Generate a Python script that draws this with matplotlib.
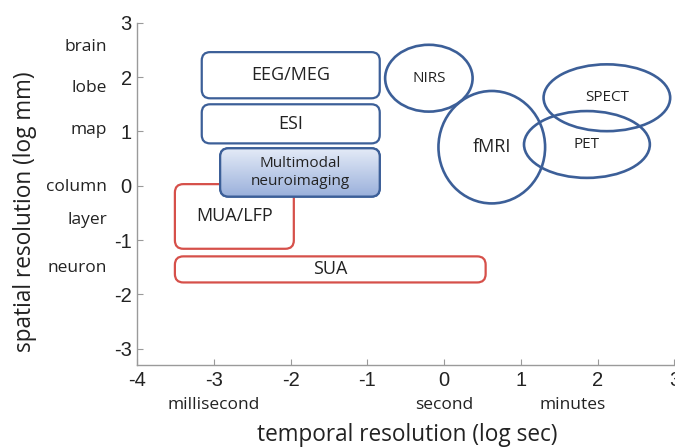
import matplotlib.pyplot as plt
import numpy as np
from matplotlib.patches import FancyBboxPatch, Ellipse
from matplotlib.colors import LinearSegmentedColormap

# rounded boxes: label, x0, x1, y0, y1, style
box_names = ["EEG/MEG", "ESI", "Multimodal\nneuroimaging", "MUA/LFP", "SUA"]
box_x0 = [-3.16, -3.16, -2.92, -3.51, -3.51]
box_x1 = [-0.84, -0.84, -0.84, -1.96, 0.54]
box_y0 = [1.61, 0.78, -0.20, -1.16, -1.78]
box_y1 = [2.46, 1.50, 0.69, 0.03, -1.30]
box_kind = ["blue", "blue", "fill", "red", "red"]

# ellipses: label, centre x, centre y, width, height
ell_names = ["NIRS", "fMRI", "SPECT", "PET"]
ell_cx = [-0.20, 0.62, 2.12, 1.86]
ell_cy = [1.98, 0.71, 1.62, 0.76]
ell_w = [1.14, 1.39, 1.65, 1.64]
ell_h = [1.23, 2.07, 1.23, 1.23]

y_names = ["brain", "lobe", "map", "column", "layer", "neuron"]
y_name_pos = [2.56, 1.80, 1.03, -0.02, -0.63, -1.52]
x_names = ["millisecond", "second", "minutes"]
x_name_pos = [-3, 0, 1.68]

blue = "#3c5f98"
red = "#d6504a"
cal = ["Open Sans", "DejaVu Sans"]

fig = plt.figure(figsize=(6.75, 4.47), dpi=100)
ax = fig.add_axes([0.2034, 0.1834, 0.7957, 0.7656])
ax.set_xlim(-4, 3)
ax.set_ylim(-3.3, 3)

# ratio of screen size of a y unit to an x unit, keeps corners round
asp = (6.3 / (0.7656 * 4.47)) / (7 / (0.7957 * 6.75))

for name, x0, x1, y0, y1, kind in zip(box_names, box_x0, box_x1, box_y0, box_y1, box_kind):
    ec = red if kind == "red" else blue
    z = 5 if kind == "fill" else 3
    patch = FancyBboxPatch((x0, y0), x1 - x0, y1 - y0,
                           boxstyle="round,pad=0,rounding_size=0.11",
                           mutation_aspect=asp, fc="white" if kind == "fill" else "none",
                           ec=ec, lw=1.6, zorder=z)
    ax.add_patch(patch)
    fs = 13
    if kind == "fill":
        grad = np.linspace(0, 1, 100).reshape(-1, 1)
        cmap = LinearSegmentedColormap.from_list("g", ["#e4ebf7", "#9ab0db"])
        img = ax.imshow(grad, extent=(x0, x1, y0, y1), origin="upper", cmap=cmap,
                        aspect="auto", zorder=5.5)
        img.set_clip_path(patch)
        edge = FancyBboxPatch((x0, y0), x1 - x0, y1 - y0,
                              boxstyle="round,pad=0,rounding_size=0.11",
                              mutation_aspect=asp, fc="none", ec=ec, lw=1.6, zorder=6)
        ax.add_patch(edge)
        fs = 11
    ax.text((x0 + x1) / 2, (y0 + y1) / 2, name, ha="center", va="center",
            fontsize=fs, family=cal, color="#222222", zorder=7, linespacing=1.25)

for name, cx, cy, w, h in zip(ell_names, ell_cx, ell_cy, ell_w, ell_h):
    ax.add_patch(Ellipse((cx, cy), w, h, fc="none", ec=blue, lw=1.9,
                         zorder=3, clip_on=False))
    ax.text(cx, cy, name, ha="center", va="center",
            fontsize=13 if name == "fMRI" else 11,
            family=cal, color="#222222", zorder=4)

ax.set_aspect("auto")
ax.set_xlim(-4, 3)
ax.set_ylim(-3.3, 3)

for s in ["top", "right"]:
    ax.spines[s].set_visible(False)
for s in ["left", "bottom"]:
    ax.spines[s].set_color("#9a9a9a")
    ax.spines[s].set_linewidth(1.0)

ax.set_xticks(range(-4, 4))
ax.set_yticks(range(-3, 4))
ax.set_xticklabels([str(v) for v in range(-4, 4)])
ax.set_yticklabels([str(v) for v in range(-3, 4)])
ax.tick_params(direction="in", length=4, color="#9a9a9a", labelsize=14.5,
               labelcolor="#222222", pad=4)
for lab in ax.get_xticklabels() + ax.get_yticklabels():
    lab.set_family(["Liberation Sans", "DejaVu Sans"])

for name, yv in zip(y_names, y_name_pos):
    ax.text(-4.39, yv, name, ha="right", va="center", fontsize=12.5,
            family=cal, color="#222222", clip_on=False)
for name, xv in zip(x_names, x_name_pos):
    ax.text(xv, -4.04, name, ha="center", va="center", fontsize=12.5,
            family=cal, color="#222222", clip_on=False)

fig.text(0.037, 0.526, "spatial resolution (log mm)", rotation=90, ha="center",
         va="center", fontsize=16.3, family=cal, color="#222222")
fig.text(0.603, 0.027, "temporal resolution (log sec)", ha="center",
         va="center", fontsize=16.3, family=cal, color="#222222")

fig.savefig("out.png", dpi=100)
